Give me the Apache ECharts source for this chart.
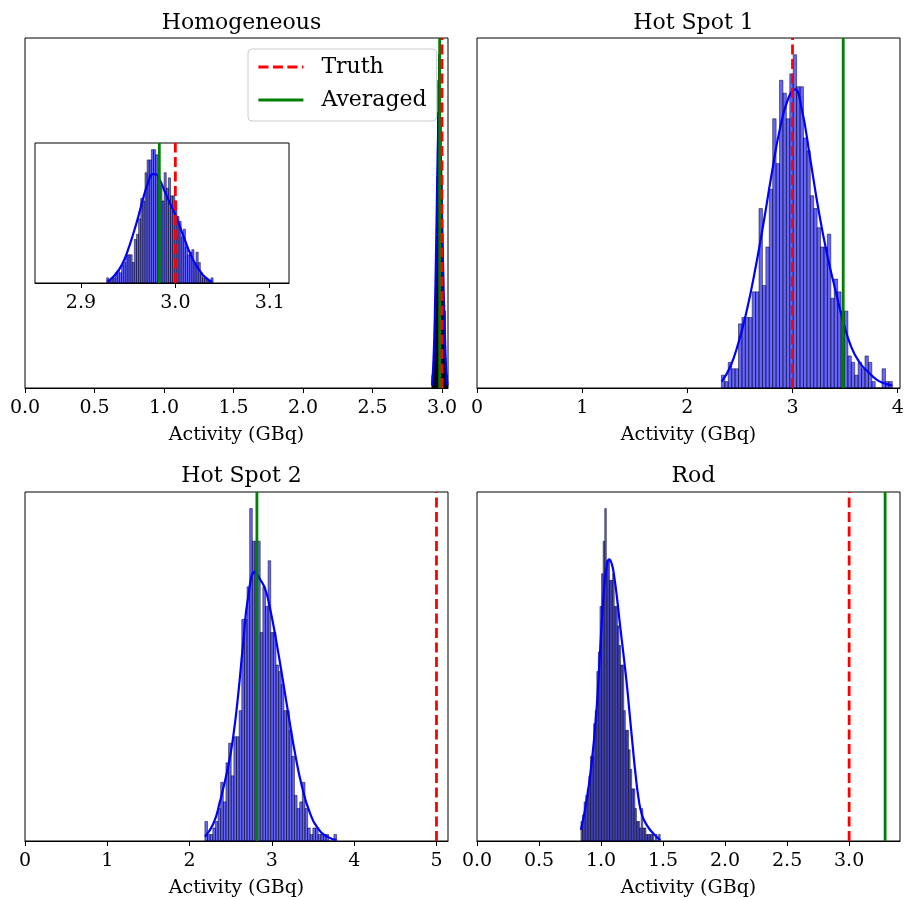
<!DOCTYPE html>
<html><head><meta charset="utf-8">
<script src="https://cdn.jsdelivr.net/npm/echarts@6/dist/echarts.min.js"></script>
<style>html,body{margin:0;padding:0;background:#fff}#c{width:907px;height:900px}</style>
</head><body><div id="c"></div>
<script>
// ---------- data ----------
const panelTitles = ['Homogeneous', 'Hot Spot 1', 'Hot Spot 2', 'Rod'];
const xLabel = 'Activity (GBq)';
const legendNames = ['Truth', 'Averaged'];

// Homogeneous (main panel and inset share the data)
const homBinStart = 2.9272, homBinWidth = 0.002256;
const homCounts = [2,1,2,2,4,5,4,7,8,11,11,11,8,17,19,25,33,32,43,48,48,52,52,50,42,38,32,43,37,41,34,34,32,26,24,18,21,14,11,12,13,8,12,8,4,2,2,1,1,2];
const homKdeX = [2.9279,2.9342,2.9395,2.9448,2.9501,2.9554,2.9607,2.9660,2.9713,2.9758,2.9801,2.9836,2.9889,2.9942,2.9995,3.0048,3.0101,3.0153,3.0206,3.0259,3.0312,3.0390];
const homKdeY = [0.4,2.4,4.8,8.2,13.2,19.2,25.8,33.2,39.3,42.5,42.3,40.2,35.6,31.2,27.0,22.0,16.8,11.8,7.8,4.8,2.4,0.4];
const homLines = [3.0, 2.983];      // [Truth, Averaged]

// Hot Spot 1
const hs1BinStart = 2.324, hs1BinWidth = 0.0325;
const hs1Counts = [2,1,4,3,3,10,11,11,11,15,15,28,16,22,31,42,35,48,46,42,49,52,47,47,39,37,30,28,25,22,22,24,14,17,15,12,12,5,4,2,4,3,5,4,1,0,0,3,1,1];
const hs1KdeX = [2.326,2.405,2.485,2.564,2.643,2.722,2.801,2.881,2.960,3.023,3.087,3.166,3.245,3.324,3.403,3.482,3.561,3.641,3.720,3.799,3.878,3.948];
const hs1KdeY = [1.0,3.2,7.0,12.0,18.3,25.5,33.3,40.5,45.2,46.6,43.6,36.0,28.0,21.2,15.6,10.4,6.3,3.9,2.5,1.3,0.7,0.4];
const hs1Lines = [3.0, 3.482];

// Hot Spot 2
const hs2BinStart = 2.186, hs2BinWidth = 0.032;
const hs2Counts = [3,1,1,2,3,5,9,6,12,15,10,16,16,20,34,34,39,51,46,46,46,32,39,36,43,32,32,27,26,24,20,20,17,13,7,5,6,9,5,2,1,2,2,1,1,1,1,0,0,1];
const hs2KdeX = [2.186,2.287,2.368,2.470,2.530,2.591,2.652,2.712,2.794,2.854,2.915,2.976,3.057,3.138,3.219,3.279,3.361,3.462,3.563,3.664,3.786];
const hs2KdeY = [0.67,2.6,6.0,11.5,16.0,22.5,30.5,37.5,41.3,40.2,38.8,35.8,30.4,24.3,18.0,13.6,8.6,4.3,1.9,0.7,0.15];
const hs2Lines = [5.0, 2.818];

// Rod
const rodBinStart = 0.838, rodBinWidth = 0.01278;
const rodCounts = [3,4,6,7,8,10,13,13,18,20,26,29,36,41,46,51,43,43,40,40,41,36,36,33,30,27,27,20,17,17,14,11,8,8,5,3,3,2,5,2,2,1,1,1,1,1,0,1,0,1];
const rodKdeX = [0.838,0.886,0.927,0.961,0.980,1.007,1.026,1.048,1.066,1.088,1.106,1.128,1.155,1.181,1.209,1.235,1.257,1.276,1.302,1.330,1.370,1.423,1.477];
const rodKdeY = [1.7,6.5,12.5,19.5,25.0,34.0,39.0,42.5,43.2,42.4,40.6,37.4,32.8,28.6,23.8,18.6,14.2,10.6,6.6,4.0,2.4,1.1,0.15];
const rodLines = [3.0, 3.29];

// axes
const homRange = [0, 3.043], hs1Range = [0, 4.022], hs2Range = [0, 5.14], rodRange = [0, 3.41], insetRange = [2.8513, 3.1204];
const homTicks = [0, 0.5, 1.0, 1.5, 2.0, 2.5, 3.0];
const hs1Ticks = [0, 1, 2, 3, 4];
const hs2Ticks = [0, 1, 2, 3, 4, 5];
const rodTicks = [0, 0.5, 1.0, 1.5, 2.0, 2.5, 3.0];
const insetTicks = [2.9, 3.0, 3.1];

// ---------- chart ----------
const FONT = 'DejaVu Serif';
const grids = [
  {left: 25, top: 38, width: 423, height: 350},
  {left: 477, top: 38, width: 423, height: 350},
  {left: 25, top: 492, width: 423, height: 349},
  {left: 477, top: 492, width: 423, height: 349},
  {left: 35, top: 143, width: 254, height: 140}
];

function xAxisCfg(gi, range, ticks, dec, named) {
  return {
    type: 'value', gridIndex: gi, min: range[0], max: range[1],
    axisLine: {show: true, onZero: false, lineStyle: {color: '#000', width: 1}},
    axisTick: {show: true, inside: false, length: 5, lineStyle: {color: '#000', width: 1}, customValues: ticks},
    axisLabel: {show: true, margin: 11, customValues: ticks, formatter: v => Number(v).toFixed(dec),
      fontFamily: FONT, fontSize: 19, color: '#000'},
    splitLine: {show: false},
    name: named ? xLabel : '', nameLocation: 'middle', nameGap: 38,
    nameTextStyle: {fontFamily: FONT, fontSize: 19, color: '#000'}
  };
}
function yAxisCfg(gi, counts) {
  return {type: 'value', gridIndex: gi, min: 0, max: Math.max(...counts) * 1.05, show: false};
}

function histRender(params, api) {
  const p0 = api.coord([api.value(0), api.value(2)]);
  const p1 = api.coord([api.value(1), 0]);
  const cs = params.coordSys;
  const r = echarts.graphic.clipRectByRect(
    {x: p0[0], y: p0[1], width: p1[0] - p0[0], height: p1[1] - p0[1]},
    {x: cs.x, y: cs.y, width: cs.width, height: cs.height});
  return r && {type: 'rect', shape: r,
    style: {fill: 'rgba(0,0,255,0.6)', stroke: 'rgba(0,0,0,0.62)', lineWidth: 0.8}};
}

function panelSeries(gi, start, width, counts, kx, ky, lines) {
  const ymax = Math.max(...counts) * 1.05;
  return [
    {type: 'custom', xAxisIndex: gi, yAxisIndex: gi, z: 1, renderItem: histRender,
      encode: {x: [0, 1], y: 2}, silent: true,
      data: counts.map((c, i) => [start + i * width, start + (i + 1) * width, c])},
    {type: 'line', xAxisIndex: gi, yAxisIndex: gi, z: 2, symbol: 'none', smooth: 0.5,
      lineStyle: {color: '#0000ff', width: 2.2}, clip: true, silent: true,
      data: kx.map((x, i) => [x, ky[i]])},
    {name: legendNames[0], type: 'line', xAxisIndex: gi, yAxisIndex: gi, z: 4, symbol: 'none', clip: true,
      lineStyle: {color: '#ff0000', width: 2.8, type: [10, 4.5]}, itemStyle: {color: '#ff0000'},
      data: [[lines[0], 0], [lines[0], ymax]]},
    {name: legendNames[1], type: 'line', xAxisIndex: gi, yAxisIndex: gi, z: 3, symbol: 'none', clip: true,
      lineStyle: {color: '#008000', width: 2.8}, itemStyle: {color: '#008000'},
      data: [[lines[1], 0], [lines[1], ymax]]}
  ];
}

const titleCenters = [[236.5, 7], [688.5, 7], [236.5, 460], [688.5, 460]];

const option = {
  animation: false,
  backgroundColor: '#fff',
  title: panelTitles.map((t, i) => ({
    text: t, left: titleCenters[i][0], top: titleCenters[i][1], textAlign: 'center',
    textStyle: {fontFamily: FONT, fontSize: 22, fontWeight: 'normal', color: '#000'}
  })),
  legend: {
    data: legendNames, orient: 'vertical', left: 248, top: 49,
    itemWidth: 45, itemHeight: 14, itemGap: 11,
    padding: [7, 10, 10, 9],
    itemStyle: {opacity: 0},
    lineStyle: {width: 2.8},
    textStyle: {fontFamily: FONT, fontSize: 22, color: '#000', padding: [0, 0, 0, 13]},
    backgroundColor: 'rgba(255,255,255,0.8)', borderColor: '#cccccc', borderWidth: 1, borderRadius: 4,
    selectedMode: false, z: 10
  },
  grid: grids.map((g, i) => Object.assign({show: true, borderColor: '#000', borderWidth: 1,
    backgroundColor: i === 4 ? '#fff' : 'transparent', containLabel: false}, g)),
  xAxis: [
    xAxisCfg(0, homRange, homTicks, 1, true),
    xAxisCfg(1, hs1Range, hs1Ticks, 0, true),
    xAxisCfg(2, hs2Range, hs2Ticks, 0, true),
    xAxisCfg(3, rodRange, rodTicks, 1, true),
    xAxisCfg(4, insetRange, insetTicks, 1, false)
  ],
  yAxis: [
    yAxisCfg(0, homCounts), yAxisCfg(1, hs1Counts), yAxisCfg(2, hs2Counts),
    yAxisCfg(3, rodCounts), yAxisCfg(4, homCounts)
  ],
  series: [].concat(
    panelSeries(0, homBinStart, homBinWidth, homCounts, homKdeX, homKdeY, homLines),
    panelSeries(1, hs1BinStart, hs1BinWidth, hs1Counts, hs1KdeX, hs1KdeY, hs1Lines),
    panelSeries(2, hs2BinStart, hs2BinWidth, hs2Counts, hs2KdeX, hs2KdeY, hs2Lines),
    panelSeries(3, rodBinStart, rodBinWidth, rodCounts, rodKdeX, rodKdeY, rodLines),
    panelSeries(4, homBinStart, homBinWidth, homCounts, homKdeX, homKdeY, homLines)
  )
};
const chart = echarts.init(document.getElementById('c'), null, {renderer: 'canvas'});
chart.setOption(option);
</script>
</body></html>
